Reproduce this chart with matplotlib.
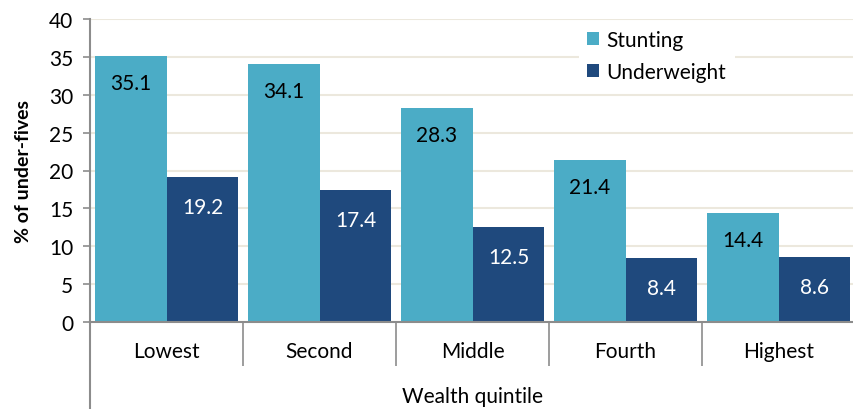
import numpy as np
import matplotlib.pyplot as plt
from matplotlib.lines import Line2D

plt.rcParams['font.family'] = ['Lato', 'DejaVu Sans']

# ===== DATA =====
categories = ["Lowest", "Second", "Middle", "Fourth", "Highest"]
stunting = [35.1, 34.1, 28.3, 21.4, 14.4]
underweight = [19.2, 17.4, 12.5, 8.4, 8.6]

STUNT_COLOR = "#4BACC6"
UNDER_COLOR = "#1F497D"
GRID_COLOR = "#ECE8DD"
AXIS_COLOR = "#8C8C8C"
FS = 15

fig = plt.figure(figsize=(8.54, 4.10), dpi=100)
ax = fig.add_axes([90 / 854, 1 - 323 / 410, 765 / 854, 303 / 410])

x = np.arange(len(categories))
w = 0.47
b1 = ax.bar(x - w / 2, stunting, w, color=STUNT_COLOR, label="Stunting", zorder=2)
b2 = ax.bar(x + w / 2, underweight, w, color=UNDER_COLOR, label="Underweight", zorder=2)

for bar, v in zip(b1, stunting):
    ax.annotate(f"{v:.1f}", (bar.get_x() + bar.get_width() / 2, v),
                xytext=(0, -27), textcoords="offset pixels",
                ha="center", va="center", fontsize=FS, color="black", zorder=3)
for bar, v in zip(b2, underweight):
    ax.annotate(f"{v:.1f}", (bar.get_x() + bar.get_width() / 2, v),
                xytext=(0, -30), textcoords="offset pixels",
                ha="center", va="center", fontsize=FS, color="white", zorder=3)

ax.set_xlim(-0.5, len(categories) - 0.5)
ax.set_ylim(0, 40)
ax.set_yticks(np.arange(0, 41, 5))
ax.yaxis.grid(True, color=GRID_COLOR, linewidth=1.5, zorder=0)
ax.set_axisbelow(True)

ax.set_xticks(x)
ax.set_xticklabels(categories, fontsize=FS)
ax.tick_params(axis="x", which="major", length=0, pad=14)
ax.set_xticks(np.arange(-0.5, len(categories), 1.0), minor=True)
ax.tick_params(axis="x", which="minor", length=32, width=1.2, color=AXIS_COLOR)
ax.tick_params(axis="y", labelsize=FS, length=5, width=1.2, color=AXIS_COLOR, pad=7)

for s in ("top", "right"):
    ax.spines[s].set_visible(False)
for s in ("left", "bottom"):
    ax.spines[s].set_color(AXIS_COLOR)
    ax.spines[s].set_linewidth(1.5)

# left axis line continues down through the category area
ax.add_line(Line2D([0, 0], [0, -87 / 303], transform=ax.transAxes,
                   color=AXIS_COLOR, linewidth=1.5, clip_on=False))

ax.set_ylabel("% of under-fives", fontsize=14, fontweight="bold", labelpad=12)
ax.set_xlabel("Wealth quintile", fontsize=FS, labelpad=11)

leg = ax.legend(loc="upper left", bbox_to_anchor=(0.625, 1.025), frameon=True,
                fontsize=FS, handlelength=0.6, handleheight=0.6,
                labelspacing=0.55, handletextpad=0.35, borderpad=0.4)
leg.get_frame().set_facecolor("white")
leg.get_frame().set_edgecolor("none")
leg.get_frame().set_alpha(1)

fig.savefig("out.png", dpi=100)
